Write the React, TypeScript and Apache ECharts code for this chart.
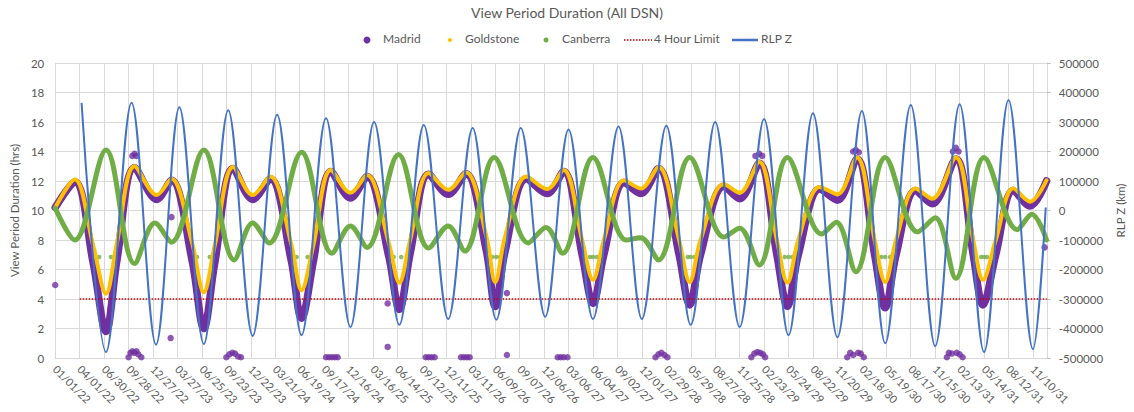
import React, { useEffect, useRef } from "react";
import * as echarts from "echarts";

// x values are days since 01/01/22
const START_UTC = Date.UTC(2022, 0, 1);
const DAY_MS = 86400000;
const X_MAX = 3651;
const TICK_DAYS = 90;

const TITLE = "View Period Duration (All DSN)";
const LEFT_AXIS_NAME = "View Period Duration (hrs)";
const RIGHT_AXIS_NAME = "RLP Z (km)";
const LEGEND_NAMES = ["Madrid", "Goldstone", "Canberra", "4 Hour Limit", "RLP Z"];

// Madrid (hrs)
const madrid: [number, number][] = [
  [0, 10.2], [72, 11.95], [140, 6.4], [187, 1.8], [227, 6.6], [292, 12.9], [374, 10.75], [428, 12.05],
  [504, 6.6], [547, 2.0], [587, 6.4], [655, 12.85], [727, 10.75], [792, 12.15],
  [868, 6.7], [907, 2.7], [950, 6.5], [1015, 12.65], [1087, 10.85], [1148, 12.3],
  [1228, 6.9], [1267, 3.3], [1307, 7.1], [1375, 12.45], [1447, 11.1], [1512, 12.5],
  [1588, 7.2], [1620, 3.5], [1656, 7.2], [1735, 12.15], [1811, 11.15], [1872, 12.65],
  [1940, 7.0], [1980, 3.7], [2020, 7.0], [2095, 11.9], [2156, 11.15], [2221, 12.85],
  [2297, 7.0], [2336, 3.6], [2376, 7.0], [2462, 11.65], [2520, 10.8], [2592, 13.2],
  [2657, 7.0], [2696, 3.5], [2736, 7.0], [2815, 11.45], [2880, 10.7], [2952, 13.5],
  [3017, 7.0], [3056, 3.4], [3096, 7.0], [3168, 11.35], [3229, 10.45], [3316, 13.5],
  [3380, 7.0], [3416, 3.6], [3463, 7.0], [3528, 11.35], [3589, 10.3], [3650, 12.0],
];

// Madrid isolated points (hrs)
const madridOutliers: [number, number][] = [
  [0, 4.95],
  [284, 13.7], [292, 13.85], [299, 13.7],
  [428, 9.55], [425, 1.35],
  [270, 0.05], [277, 0.35], [284, 0.45], [292, 0.35], [299, 0.45], [306, 0.25], [317, 0.05],
  [630, 0.05], [641, 0.25], [652, 0.35], [662, 0.3], [673, 0.1], [684, 0.05],
  [997, 0.05], [1008, 0.05], [1019, 0.05], [1030, 0.05], [1040, 0.05],
  [1224, 3.7], [1224, 0.75],
  [1364, 0.05], [1375, 0.05], [1386, 0.05], [1397, 0.05],
  [1494, 0.05], [1505, 0.05], [1516, 0.05], [1526, 0.05],
  [1663, 4.4], [1663, 0.2],
  [1850, 0.05], [1861, 0.05], [1872, 0.05], [1886, 0.05],
  [2210, 0.05], [2221, 0.25], [2232, 0.35], [2243, 0.2], [2254, 0.05],
  [2563, 0.05], [2574, 0.3], [2585, 0.4], [2596, 0.35], [2606, 0.25], [2614, 0.05],
  [2578, 13.7], [2592, 13.85], [2603, 13.7],
  [2916, 0.05], [2927, 0.35], [2938, 0.2], [2956, 0.35], [2966, 0.3], [2977, 0.05],
  [2938, 14.0], [2948, 14.1], [2959, 13.95],
  [3283, 0.05], [3290, 0.35], [3301, 0.3], [3319, 0.35], [3330, 0.25], [3341, 0.05],
  [3305, 14.0], [3316, 14.25], [3326, 14.0],
  [3643, 7.5],
];

// Goldstone (hrs)
const goldstone: [number, number][] = [
  [0, 10.2], [72, 12.1], [140, 7.6], [187, 4.35], [227, 7.8], [292, 13.0], [374, 11.05], [428, 12.15],
  [504, 7.8], [547, 4.45], [587, 7.6], [655, 12.95], [727, 11.05], [792, 12.3],
  [868, 7.8], [907, 4.6], [950, 7.6], [1015, 12.75], [1087, 11.2], [1148, 12.4],
  [1228, 7.8], [1267, 5.1], [1307, 8.0], [1375, 12.55], [1447, 11.4], [1512, 12.6],
  [1588, 8.2], [1620, 5.15], [1656, 8.2], [1735, 12.3], [1811, 11.45], [1872, 12.75],
  [1940, 8.0], [1980, 5.3], [2020, 8.0], [2095, 12.05], [2156, 11.5], [2221, 12.95],
  [2297, 8.0], [2336, 5.15], [2376, 8.0], [2462, 11.8], [2520, 11.2], [2592, 13.3],
  [2657, 8.0], [2696, 5.1], [2736, 8.0], [2815, 11.6], [2880, 11.1], [2952, 13.6],
  [3017, 8.0], [3056, 5.15], [3096, 8.0], [3168, 11.5], [3229, 10.8], [3316, 13.6],
  [3380, 8.0], [3416, 5.3], [3463, 8.0], [3528, 11.5], [3589, 10.6], [3650, 12.05],
];

// Canberra (hrs)
const canberra: [number, number][] = [
  [0, 10.15], [72, 8.0], [187, 14.1], [292, 6.4], [367, 9.15], [428, 7.85],
  [547, 14.1], [659, 6.65], [727, 9.15], [788, 7.8],
  [907, 13.95], [1019, 7.1], [1087, 8.95], [1148, 7.5],
  [1264, 13.8], [1375, 7.45], [1447, 8.95], [1508, 7.25],
  [1616, 13.6], [1742, 7.8], [1807, 8.85], [1868, 7.1],
  [1980, 13.6], [2102, 8.0], [2156, 8.15], [2221, 6.65],
  [2336, 13.6], [2462, 8.2], [2520, 8.8], [2592, 6.3],
  [2696, 13.6], [2822, 8.4], [2876, 9.2], [2948, 5.85],
  [3056, 13.6], [3175, 8.55], [3240, 9.5], [3316, 5.4],
  [3420, 13.6], [3542, 8.7], [3596, 9.75], [3650, 8.0],
];

// Canberra isolated points (hrs)
const canberraOutliers: [number, number][] = [
  [162, 6.85], [205, 6.85], [522, 6.85], [569, 6.85], [889, 6.85], [929, 6.85],
  [1246, 6.85], [1274, 6.85], [1609, 6.85], [1624, 6.85], [1638, 6.85],
  [1969, 6.85], [1980, 6.85], [1994, 6.85], [2329, 6.85], [2340, 6.85], [2354, 6.85],
  [2686, 6.85], [2700, 6.85], [2714, 6.85], [3042, 6.85], [3056, 6.85], [3074, 6.85],
  [3409, 6.85], [3420, 6.85], [3431, 6.85],
];

// 4 hour limit (hrs)
const limit4h: [number, number][] = [[90, 4], [3651, 4]];

// RLP Z (km)
const rlpZ: [number, number][] = [
  [97, 365000], [187, -480000], [281, 365000], [371, -455000], [457, 350000], [547, -452500],
  [637, 340000], [727, -425000], [817, 325000], [907, -422500], [997, 312500], [1087, -395000],
  [1174, 300000], [1267, -387500], [1357, 290000], [1447, -367500], [1537, 280000], [1624, -370000],
  [1714, 280000], [1804, -360000], [1890, 275000], [1980, -367500], [2074, 285000], [2160, -367500],
  [2250, 287500], [2340, -387500], [2430, 300000], [2520, -395000], [2610, 310000], [2700, -422500],
  [2790, 330000], [2880, -430000], [2970, 337500], [3056, -450000], [3150, 357500], [3240, -460000],
  [3330, 360000], [3420, -480000], [3510, 375000], [3600, -470000], [3647, 10000],
];

const FONT = "Lato, 'Open Sans', sans-serif";
const TEXT = "#595959";
const GRID = "#d9d9d9";
const C_MADRID = "#7030A0";
const C_GOLD = "#FFC000";
const C_CANB = "#70AD47";
const C_LIMIT = "#C00000";
const C_RLP = "#4472C4";

function fmtDay(v: number): string {
  const d = new Date(START_UTC + Math.round(v) * DAY_MS);
  const mm = String(d.getUTCMonth() + 1).padStart(2, "0");
  const dd = String(d.getUTCDate()).padStart(2, "0");
  const yy = String(d.getUTCFullYear() % 100).padStart(2, "0");
  return `${mm}/${dd}/${yy}`;
}

export default function App() {
  const ref = useRef<HTMLDivElement>(null);

  useEffect(() => {
    if (!ref.current) return;
    const chart = echarts.init(ref.current, undefined, { renderer: "svg" });
    const ly = 40;
    const legendText = (x: number, text: string) => ({
      type: "text",
      left: x,
      top: ly - 8,
      style: { text, fill: TEXT, font: `12px ${FONT}` },
    });
    chart.setOption({
      animation: false,
      backgroundColor: "#ffffff",
      title: {
        text: TITLE,
        left: "center",
        top: 0,
        textStyle: { fontFamily: FONT, fontSize: 14, fontWeight: "normal", color: TEXT },
      },
      grid: { left: 48, right: 73, top: 63, bottom: 54, containLabel: false },
      xAxis: {
        type: "value",
        min: 0,
        max: X_MAX,
        interval: TICK_DAYS,
        axisLine: { show: true, lineStyle: { color: GRID, width: 1 } },
        axisTick: { show: false },
        splitLine: { show: true, lineStyle: { color: GRID, width: 1 } },
        axisLabel: {
          rotate: -45,
          margin: 9,
          showMaxLabel: false,
          color: TEXT,
          fontFamily: FONT,
          fontSize: 11,
          formatter: (v: number) => fmtDay(v),
        },
      },
      yAxis: [
        {
          type: "value",
          min: 0,
          max: 20,
          interval: 2,
          name: LEFT_AXIS_NAME,
          nameLocation: "middle",
          nameRotate: 90,
          nameGap: 30,
          nameTextStyle: { color: TEXT, fontFamily: FONT, fontSize: 11.5 },
          axisLine: { show: false },
          axisTick: { show: false },
          splitLine: { show: true, lineStyle: { color: GRID, width: 1 } },
          axisLabel: { color: TEXT, fontFamily: FONT, fontSize: 11.5, margin: 11 },
        },
        {
          type: "value",
          position: "right",
          min: -500000,
          max: 500000,
          interval: 100000,
          name: RIGHT_AXIS_NAME,
          nameLocation: "middle",
          nameRotate: 90,
          nameGap: 57,
          nameTextStyle: { color: TEXT, fontFamily: FONT, fontSize: 11.5 },
          axisLine: { show: true, lineStyle: { color: GRID, width: 1 } },
          axisTick: { show: true, length: 4, lineStyle: { color: "#bfbfbf" } },
          splitLine: { show: false },
          axisLabel: {
            color: TEXT,
            fontFamily: FONT,
            fontSize: 11.5,
            margin: 12,
            formatter: (v: number) => String(v),
          },
        },
      ],
      series: [
        {
          name: "Madrid",
          type: "line",
          data: madrid,
          yAxisIndex: 0,
          smooth: 0.35,
          symbol: "none",
          lineStyle: { color: C_MADRID, width: 7.5, cap: "round", join: "round" },
          itemStyle: { color: C_MADRID },
        },
        {
          name: "Madrid",
          type: "scatter",
          data: madridOutliers,
          yAxisIndex: 0,
          symbolSize: 6.5,
          itemStyle: { color: C_MADRID },
        },
        {
          name: "Goldstone",
          type: "line",
          data: goldstone,
          yAxisIndex: 0,
          smooth: 0.35,
          symbol: "none",
          lineStyle: { color: C_GOLD, width: 4, cap: "round", join: "round" },
          itemStyle: { color: C_GOLD },
        },
        {
          name: "Canberra",
          type: "line",
          data: canberra,
          yAxisIndex: 0,
          smooth: 0.35,
          symbol: "none",
          lineStyle: { color: C_CANB, width: 5, cap: "round", join: "round" },
          itemStyle: { color: C_CANB },
        },
        {
          name: "Canberra",
          type: "scatter",
          data: canberraOutliers,
          yAxisIndex: 0,
          symbolSize: 4.5,
          itemStyle: { color: C_CANB },
        },
        {
          name: "4 Hour Limit",
          type: "line",
          data: limit4h,
          yAxisIndex: 0,
          symbol: "none",
          lineStyle: { color: C_LIMIT, width: 1.5, type: [1.5, 1.5] },
          itemStyle: { color: C_LIMIT },
        },
        {
          name: "RLP Z",
          type: "line",
          data: rlpZ,
          yAxisIndex: 1,
          smooth: 0.35,
          symbol: "none",
          lineStyle: { color: C_RLP, width: 2 },
          itemStyle: { color: C_RLP },
        },
      ],
      graphic: [
        { type: "circle", shape: { cx: 367, cy: ly, r: 3.5 }, style: { fill: C_MADRID } },
        legendText(383, LEGEND_NAMES[0]),
        { type: "circle", shape: { cx: 450, cy: ly, r: 2 }, style: { fill: C_GOLD } },
        legendText(465, LEGEND_NAMES[1]),
        { type: "circle", shape: { cx: 546, cy: ly, r: 2.5 }, style: { fill: C_CANB } },
        legendText(562, LEGEND_NAMES[2]),
        {
          type: "line",
          shape: { x1: 624, y1: ly, x2: 652, y2: ly },
          style: { stroke: C_LIMIT, lineWidth: 1.5, lineDash: [1.5, 1.5] },
        },
        legendText(654, LEGEND_NAMES[3]),
        {
          type: "line",
          shape: { x1: 732, y1: ly, x2: 758, y2: ly },
          style: { stroke: C_RLP, lineWidth: 2.5 },
        },
        legendText(761, LEGEND_NAMES[4]),
      ],
    });
    return () => chart.dispose();
  }, []);

  return (
    <div
      ref={ref}
      style={{ position: "fixed", left: 0, top: 0, width: 1134, height: 412, background: "#fff" }}
    />
  );
}
